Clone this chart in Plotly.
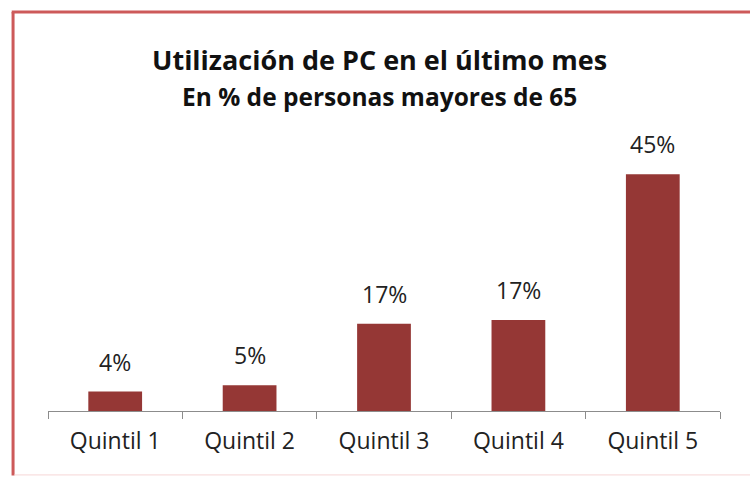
import plotly.graph_objects as go

categories = ["Quintil 1", "Quintil 2", "Quintil 3", "Quintil 4", "Quintil 5"]
values = [3.7, 4.9, 16.6, 17.3, 45.0]
title_text = "Utilización de PC en el último mes"
subtitle_text = "En % de personas mayores de 65"

FONT = "Open Sans, sans-serif"
BAR = "#953735"

fig = go.Figure(go.Bar(
    x=categories, y=values,
    marker=dict(color=BAR, line=dict(width=0)),
    width=0.4,
    hoverinfo="x+y",
))

label_annotations = [
    dict(x=c, y=v, xref="x", yref="y", text=f"{v:.0f}%", showarrow=False,
         yanchor="bottom", yshift=12, font=dict(family=FONT, size=23, color="#222"))
    for c, v in zip(categories, values)
]

fig.update_layout(
    width=750, height=477,
    margin=dict(l=48, r=30, t=148, b=66),
    paper_bgcolor="white", plot_bgcolor="white",
    showlegend=False,
    xaxis=dict(showline=True, linecolor="#8c8c8c", linewidth=1,
               ticks="outside", tickson="boundaries", ticklen=7, tickcolor="#8c8c8c",
               ticklabelstandoff=9,
               tickfont=dict(family=FONT, size=23, color="#222"), showgrid=False),
    yaxis=dict(range=[0, 50], visible=False, showgrid=False),
    annotations=label_annotations + [
        dict(text="<b>" + title_text + "</b>", x=0.494, y=1.335, xref="paper", yref="paper",
             yanchor="middle", showarrow=False, font=dict(family=FONT, size=27, color="#111")),
        dict(text="<b>" + subtitle_text + "</b>", x=0.494, y=1.194, xref="paper", yref="paper",
             yanchor="middle", showarrow=False, font=dict(family=FONT, size=24.5, color="#111")),
    ],
    shapes=[
        dict(type="line", xref="paper", yref="paper", x0=-0.052, x1=-0.052, y0=1.517, y1=-0.245,
             line=dict(color="#cd5a5a", width=3)),
        dict(type="line", xref="paper", yref="paper", x0=-0.054, x1=1.1, y0=1.517, y1=1.517,
             line=dict(color="#cd5a5a", width=3)),
        dict(type="line", xref="paper", yref="paper", x0=-0.05, x1=1.1, y0=-0.243, y1=-0.243,
             line=dict(color="#f6d6d6", width=1)),
    ],
)

fig.write_html("out.html", config={"displayModeBar": False},
               post_script="document.body.style.margin='0';")
